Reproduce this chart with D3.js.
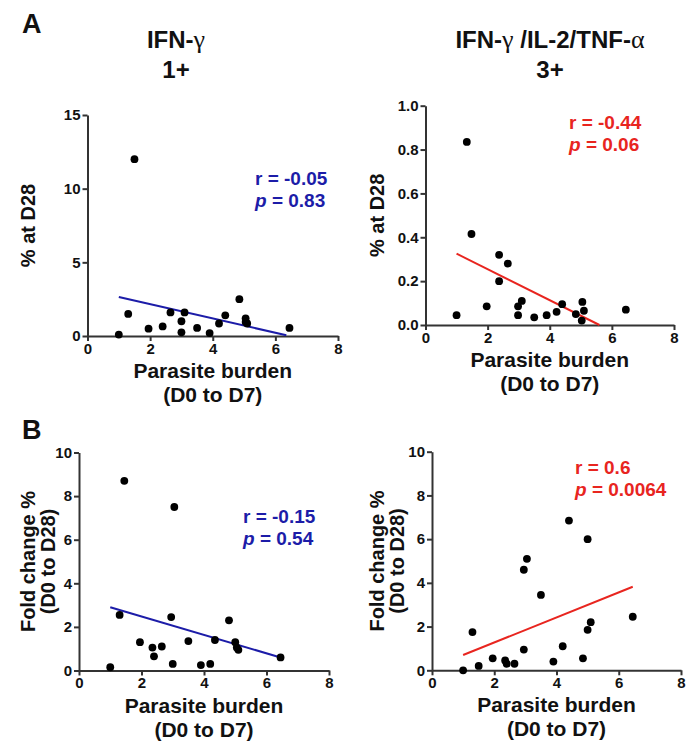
<!DOCTYPE html>
<html>
<head>
<meta charset="utf-8">
<script src="https://d3js.org/d3.v7.min.js"></script>
<style>
  body { margin: 0; background: #fff; }
  text { font-family: "Liberation Sans", Arial, sans-serif; font-weight: bold; fill: #111; }
  .greek { font-family: "Liberation Serif", "DejaVu Serif", serif; font-weight: normal; font-size: 26px; }
</style>
</head>
<body>
<svg id="svg" width="691" height="750"></svg>
<script>
// x values: parasite burden (D0 to D7)
var xTicks = [0, 2, 4, 6, 8];

// A, IFN-g 1+ : % at D28
var aLeftX = [1.0, 1.3, 1.5, 1.95, 2.4, 2.65, 3.0, 3.0, 3.1, 3.5, 3.9, 4.2, 4.4, 4.85, 5.05, 5.05, 5.1, 6.45];
var aLeftY = [0.1, 1.5, 12.0, 0.5, 0.65, 1.6, 1.0, 0.25, 1.6, 0.55, 0.2, 0.85, 1.4, 2.5, 1.2, 0.95, 0.85, 0.55];
var aLeftFit = [[1.0, 2.65], [6.35, 0.05]];
var aLeftTicks = [0, 5, 10, 15];

// A, IFN-g/IL-2/TNF-a 3+ : % at D28
var aRightX = [1.0, 1.33, 1.48, 1.97, 2.37, 2.37, 2.65, 2.98, 2.98, 3.1, 3.5, 3.9, 4.22, 4.4, 4.84, 5.05, 5.1, 5.03, 6.45];
var aRightY = [0.045, 0.835, 0.415, 0.085, 0.32, 0.2, 0.28, 0.085, 0.045, 0.11, 0.035, 0.045, 0.06, 0.095, 0.05, 0.105, 0.065, 0.02, 0.07];
var aRightFit = [[1.0, 0.325], [5.6, 0.0]];
var aRightTicks = [0, 0.2, 0.4, 0.6, 0.8, 1.0];

// B, IFN-g 1+ : fold change % (D0 to D28)
var bLeftX = [1.0, 1.3, 1.45, 1.95, 2.35, 2.4, 2.65, 2.95, 3.0, 3.05, 3.5, 3.9, 4.2, 4.35, 4.8, 5.0, 5.05, 5.1, 6.45];
var bLeftY = [0.15, 2.55, 8.7, 1.3, 1.05, 0.65, 1.1, 2.45, 0.3, 7.5, 1.35, 0.25, 0.3, 1.4, 2.3, 1.3, 1.05, 0.95, 0.6];
var bLeftFit = [[1.0, 2.9], [6.45, 0.6]];

// B, IFN-g/IL-2/TNF-a 3+ : fold change % (D0 to D28)
var bRightX = [1.0, 1.3, 1.5, 1.95, 2.35, 2.4, 2.65, 2.95, 2.95, 3.05, 3.5, 3.9, 4.2, 4.4, 4.85, 5.0, 5.0, 5.1, 6.45];
var bRightY = [0.0, 1.75, 0.2, 0.55, 0.45, 0.3, 0.3, 0.95, 4.6, 5.1, 3.45, 0.4, 1.1, 6.85, 0.55, 6.0, 1.85, 2.2, 2.45];
var bRightFit = [[1.0, 0.7], [6.45, 3.82]];
var bTicks = [0, 2, 4, 6, 8, 10];

var blue = "#1c1ca8";
var red = "#e8251f";

var svg = d3.select("#svg");

function drawPanel(p) {
  var x = d3.scaleLinear().domain([0, 8]).range([p.left, p.right]);
  var y = d3.scaleLinear().domain([0, p.ymax]).range([p.bottom, p.top]);

  var xa = svg.append("g")
    .attr("transform", "translate(0," + p.bottom + ")")
    .call(d3.axisBottom(x).tickValues(xTicks).tickSize(5).tickSizeOuter(0).tickPadding(2));
  var ya = svg.append("g")
    .attr("transform", "translate(" + p.left + ",0)")
    .call(d3.axisLeft(y).tickValues(p.ticks).tickSize(5).tickSizeOuter(0).tickPadding(2)
      .tickFormat(p.fmt));
  [xa, ya].forEach(function(a) {
    a.select(".domain").attr("stroke", "#333").attr("stroke-width", 2);
    a.selectAll(".tick line").attr("stroke", "#333").attr("stroke-width", 2);
    a.selectAll(".tick text").attr("font-size", 15).attr("fill", "#111")
      .style("font-family", "'Liberation Sans', Arial, sans-serif").style("font-weight", "bold");
  });

  // fit line
  svg.append("line")
    .attr("x1", x(p.fit[0][0])).attr("y1", y(p.fit[0][1]))
    .attr("x2", x(p.fit[1][0])).attr("y2", y(p.fit[1][1]))
    .attr("stroke", p.color).attr("stroke-width", 2);

  // points
  svg.append("g").selectAll("circle")
    .data(p.xs)
    .enter().append("circle")
    .attr("cx", function(d) { return x(d); })
    .attr("cy", function(d, i) { return y(p.ys[i]); })
    .attr("r", 3.9)
    .attr("fill", "#000");

  // r / p annotation
  var t1 = svg.append("text").attr("x", p.annX).attr("y", p.annY)
    .attr("font-size", 19).style("fill", p.color);
  t1.text(p.r);
  var t2 = svg.append("text").attr("x", p.annX).attr("y", p.annY + 22)
    .attr("font-size", 19).style("fill", p.color);
  t2.append("tspan").attr("font-style", "italic").text("p");
  t2.append("tspan").text(" = " + p.p);

  // x label
  var cx = (p.left + p.right) / 2;
  svg.append("text").attr("x", cx).attr("y", p.bottom + 42)
    .attr("text-anchor", "middle").attr("font-size", 21).text("Parasite burden");
  svg.append("text").attr("x", cx).attr("y", p.bottom + 66)
    .attr("text-anchor", "middle").attr("font-size", 21).text("(D0 to D7)");

  // y label
  var cy = (p.top + p.bottom) / 2;
  p.ylab.forEach(function(s, i) {
    svg.append("text")
      .attr("transform", "translate(" + p.ylabX[i] + "," + cy + ") rotate(-90)")
      .attr("text-anchor", "middle").attr("font-size", 20).text(s);
  });
}

var fmt0 = d3.format("d");
var fmt1 = d3.format(".1f");

drawPanel({left: 87.5, right: 338, top: 115, bottom: 336, ymax: 15, ticks: aLeftTicks, fmt: fmt0,
  xs: aLeftX, ys: aLeftY, fit: aLeftFit, color: blue, r: "r = -0.05", p: "0.83",
  annX: 255, annY: 185, ylab: ["% at D28"], ylabX: [35]});
drawPanel({left: 425.5, right: 674, top: 105.7, bottom: 325, ymax: 1.0, ticks: aRightTicks, fmt: fmt1,
  xs: aRightX, ys: aRightY, fit: aRightFit, color: red, r: "r = -0.44", p: "0.06",
  annX: 569, annY: 129, ylab: ["% at D28"], ylabX: [384]});
drawPanel({left: 79, right: 329, top: 452.5, bottom: 670.5, ymax: 10, ticks: bTicks, fmt: fmt0,
  xs: bLeftX, ys: bLeftY, fit: bLeftFit, color: blue, r: "r = -0.15", p: "0.54",
  annX: 243, annY: 523, ylab: ["Fold change %", "(D0 to D28)"], ylabX: [35, 55]});
drawPanel({left: 432, right: 681, top: 451.7, bottom: 670.3, ymax: 10, ticks: bTicks, fmt: fmt0,
  xs: bRightX, ys: bRightY, fit: bRightFit, color: red, r: "r = 0.6", p: "0.0064",
  annX: 575, annY: 474, ylab: ["Fold change %", "(D0 to D28)"], ylabX: [384, 404]});

// titles and panel letters
svg.append("text").attr("x", 22).attr("y", 33).attr("font-size", 27).text("A");
svg.append("text").attr("x", 22).attr("y", 439).attr("font-size", 27).text("B");

var t = svg.append("text").attr("x", 176).attr("y", 48).attr("text-anchor", "middle").attr("font-size", 24);
t.append("tspan").text("IFN-");
t.append("tspan").attr("class", "greek").text("γ");
svg.append("text").attr("x", 176).attr("y", 78).attr("text-anchor", "middle").attr("font-size", 24).text("1+");

var t3 = svg.append("text").attr("x", 550).attr("y", 48).attr("text-anchor", "middle").attr("font-size", 24);
t3.append("tspan").text("IFN-");
t3.append("tspan").attr("class", "greek").text("γ");
t3.append("tspan").text(" /IL-2/TNF-");
t3.append("tspan").attr("class", "greek").text("α");
svg.append("text").attr("x", 550).attr("y", 78).attr("text-anchor", "middle").attr("font-size", 24).text("3+");
</script>
</body>
</html>
